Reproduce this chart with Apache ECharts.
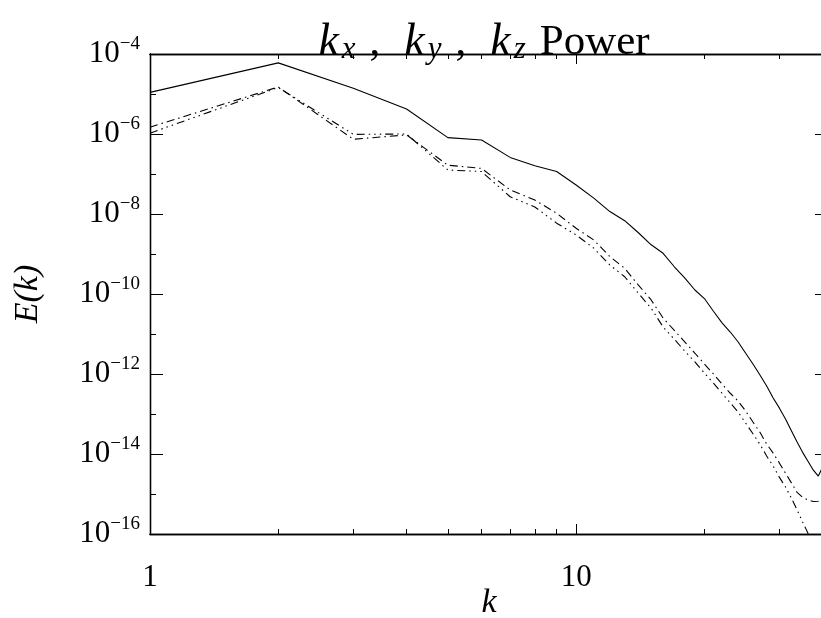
<!DOCTYPE html>
<html><head><meta charset="utf-8">
<script src="https://cdn.jsdelivr.net/npm/echarts@6/dist/echarts.min.js"></script>
<style>html,body{margin:0;padding:0;background:#fff}#c{width:821px;height:618px}</style>
</head><body><div id="c"></div>
<script>
// ---- data ----
const kValues = [1,2,3,4,5,6,7,8,9,10,11,12,13,14,15,16,17,18,19,20,21,22,23,24,25,26,27,28,29,30,31,32,33,34,35,36,37,38,39];
const powerSolid = [1.1e-5,6.0e-5,1.4e-5,4.2e-6,8.1e-7,7.1e-7,2.6e-7,1.6e-7,1.15e-7,5.3e-8,
  2.5e-8,1.15e-8,6.8e-9,3.4e-9,1.7e-9,1.04e-9,4.8e-10,2.5e-10,1.26e-10,7.7e-11,
  3.7e-11,1.9e-11,1.12e-11,6.3e-12,3.3e-12,1.78e-12,9.4e-13,5.0e-13,2.5e-13,1.4e-13,
  7.5e-14,3.8e-14,2.0e-14,1.1e-14,6.6e-15,4.0e-15,2.8e-15,5.0e-15,8.0e-15];
const powerDashDot = [1.48e-6,1.5e-5,7.4e-7,9.5e-7,1.66e-7,1.38e-7,4.0e-8,2.24e-8,1.04e-8,4.4e-9,
  2.24e-9,8.6e-10,4.4e-10,1.67e-10,7.1e-11,2.5e-11,1.23e-11,6.3e-12,3.3e-12,1.78e-12,
  1.0e-12,5.6e-13,3.3e-13,2.1e-13,1.18e-13,6.3e-14,3.5e-14,1.78e-14,1.05e-14,5.9e-15,
  3.3e-15,1.9e-15,1.1e-15,8.3e-16,7.1e-16,6.5e-16,6.6e-16,7.5e-16,9.0e-16];
const powerDashDotDot = [1.05e-6,1.45e-5,9.8e-7,1.0e-6,1.26e-7,1.15e-7,2.7e-8,1.5e-8,5.9e-9,3.0e-9,
  1.4e-9,5.3e-10,2.7e-10,1.04e-10,4.4e-11,1.5e-11,7.4e-12,3.7e-12,2.0e-12,1.05e-12,
  5.9e-13,3.3e-13,1.9e-13,1.12e-13,5.9e-14,3.2e-14,1.74e-14,8.9e-15,5.0e-15,2.6e-15,
  1.5e-15,7.9e-16,4.0e-16,2.0e-16,1.05e-16,4.5e-17,2.0e-17,1.0e-17,5.0e-18];
const xMajorTicks = [1, 10];
const xMinorTicks = [2,3,4,5,6,7,8,9,20,30];
const xTickLabels = ['1', '10'];
const yMajorExponents = [-16,-14,-12,-10,-8,-6,-4];
const yMinorExponents = [-15,-13,-11,-9,-7,-5];

// ---- chart ----
const yMajorTicks = yMajorExponents.map(e => Math.pow(10, e));
const yMinorTicks = yMinorExponents.map(e => Math.pow(10, e));
const toPairs = arr => kValues.map((k, i) => [k, arr[i]]);
const SERIF = 'Liberation Serif';
const ink = '#000';
const gridRect = {left: 150, top: 54, width: 678, height: 480, outerBoundsMode: 'none', containLabel: false};
const XMIN = 1, XMAX = 39, YMIN = 1e-16, YMAX = 1e-4;

function xAxisDef(grid, pos, ticks, len, withLabels) {
  const a = {
    type: 'log', logBase: 10, min: XMIN, max: XMAX, gridIndex: grid, position: pos,
    axisLine: {show: true, onZero: false, lineStyle: {color: ink, width: 1.3}},
    axisTick: {show: true, inside: true, length: len, customValues: ticks, lineStyle: {color: ink, width: 1}},
    axisLabel: {show: false},
    splitLine: {show: false}, minorTick: {show: false}, minorSplitLine: {show: false}
  };
  if (withLabels) {
    a.axisLabel = {
      show: true, customValues: xMajorTicks, margin: 28,
      fontFamily: SERIF, fontSize: 31, color: ink,
      formatter: v => xTickLabels[xMajorTicks.indexOf(Math.round(v))] || ''
    };
    a.name = 'k';
    a.nameLocation = 'middle';
    a.nameGap = 52;
    a.nameMoveOverlap = false;
    a.nameTextStyle = {fontFamily: SERIF, fontStyle: 'italic', fontSize: 34, color: ink};
  }
  return a;
}
function yAxisDef(grid, pos, ticks, len, withLabels) {
  const a = {
    type: 'log', logBase: 10, min: YMIN, max: YMAX, gridIndex: grid, position: pos,
    axisLine: {show: true, onZero: false, lineStyle: {color: ink, width: 1.3}},
    axisTick: {show: true, inside: true, length: len, customValues: ticks, lineStyle: {color: ink, width: 1}},
    axisLabel: {show: false},
    splitLine: {show: false}, minorTick: {show: false}, minorSplitLine: {show: false}
  };
  if (withLabels) {
    a.axisLabel = {
      show: true, customValues: yMajorTicks, margin: 10,
      formatter: v => {
        const e = Math.round(Math.log10(v));
        return '{b|10}{s|' + (e < 0 ? '\u2212' : '') + Math.abs(e) + '}';
      },
      rich: {
        b: {fontFamily: SERIF, fontSize: 31, lineHeight: 38, color: ink},
        s: {fontFamily: SERIF, fontSize: 19, lineHeight: 19, verticalAlign: 'top', color: ink}
      }
    };
    a.name = 'E(k)';
    a.nameLocation = 'middle';
    a.nameRotate = 90;
    a.nameGap = 105;
    a.nameMoveOverlap = false;
    a.nameTextStyle = {fontFamily: SERIF, fontStyle: 'italic', fontSize: 34, color: ink};
  }
  return a;
}

const chart = echarts.init(document.getElementById('c'), null, {renderer: 'canvas'});
chart.setOption({
  backgroundColor: '#fff',
  animation: false,
  graphic: [{
    type: 'text', x: 484, y: 21, silent: true,
    style: {
      text: '{k|k}{sub|x}{c|,}{k|k}{sub|y}{c|,}{k|k}{sub|z}{p|Power}',
      align: 'center', verticalAlign: 'top',
      rich: {
        k: {fontFamily: SERIF, fontStyle: 'italic', fontSize: 46, lineHeight: 44, fill: ink},
        sub: {fontFamily: SERIF, fontStyle: 'italic', fontSize: 31, lineHeight: 27, verticalAlign: 'bottom', padding: [0, 0, 0, 3], fill: ink},
        c: {fontFamily: SERIF, fontSize: 43, lineHeight: 44, padding: [0, 24, 0, 14], fill: ink},
        p: {fontFamily: SERIF, fontSize: 43, lineHeight: 44, padding: [0, 0, 0, 14], fill: ink}
      }
    }
  }],
  grid: [Object.assign({}, gridRect), Object.assign({}, gridRect)],
  xAxis: [
    xAxisDef(0, 'bottom', xMinorTicks, 5, true),
    xAxisDef(0, 'top', xMinorTicks, 5, false),
    xAxisDef(1, 'bottom', xMajorTicks, 10, false),
    xAxisDef(1, 'top', xMajorTicks, 10, false)
  ],
  yAxis: [
    yAxisDef(0, 'left', yMinorTicks, 6, false),
    yAxisDef(0, 'right', yMinorTicks, 6, false),
    yAxisDef(1, 'left', yMajorTicks, 13, true),
    yAxisDef(1, 'right', yMajorTicks, 13, false)
  ],
  series: [
    {type: 'line', xAxisIndex: 0, yAxisIndex: 0, data: toPairs(powerSolid), showSymbol: false, clip: true,
     lineStyle: {color: ink, width: 1.1, type: 'solid'}},
    {type: 'line', xAxisIndex: 0, yAxisIndex: 0, data: toPairs(powerDashDot), showSymbol: false, clip: true,
     lineStyle: {color: ink, width: 1.1, type: [8, 4, 1.5, 4]}},
    {type: 'line', xAxisIndex: 0, yAxisIndex: 0, data: toPairs(powerDashDotDot), showSymbol: false, clip: true,
     lineStyle: {color: ink, width: 1.1, type: [8, 4, 1.5, 4, 1.5, 4, 1.5, 4]}}
  ]
});
</script></body></html>
